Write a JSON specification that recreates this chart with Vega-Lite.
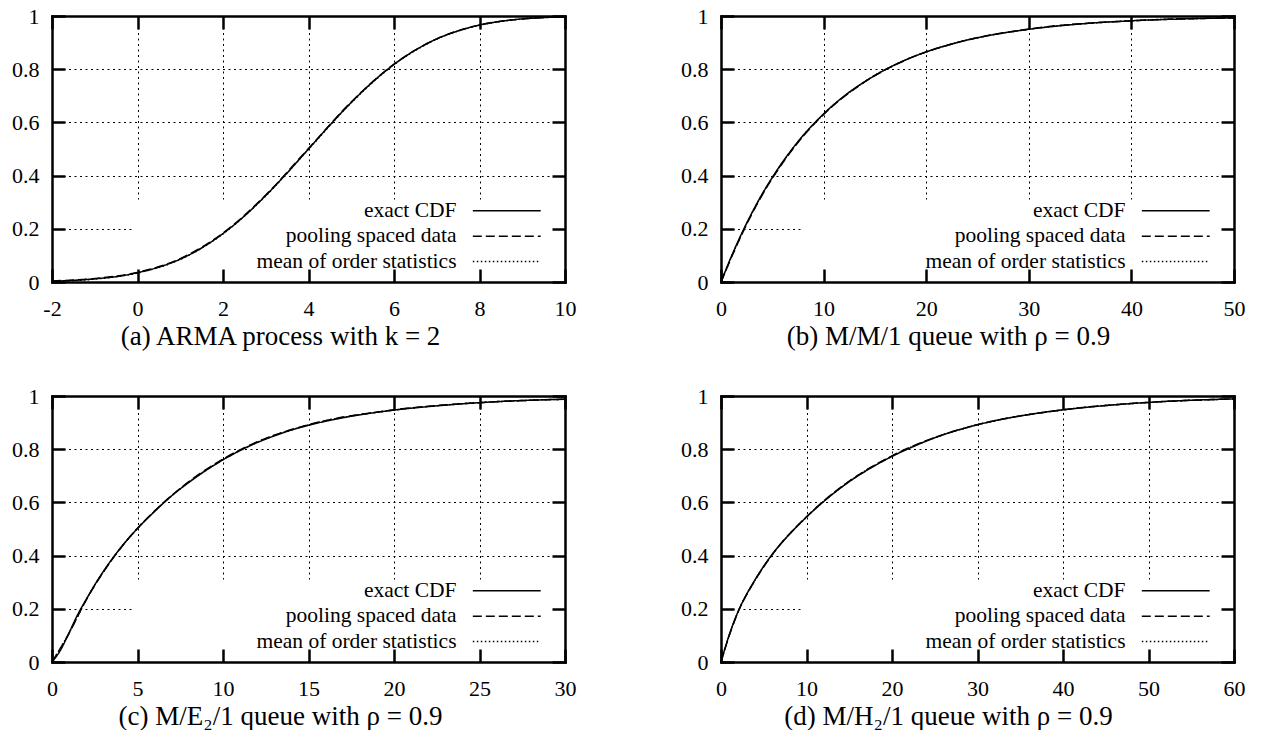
{
  "$schema": "https://vega.github.io/schema/vega-lite/v6.json",
  "background": "white",
  "padding": {"left": 11, "top": 5, "right": 0, "bottom": 0},
  "config": {
    "view": {"stroke": null},
    "font": "Liberation Serif",
    "axis": {
      "labelFont": "Liberation Serif", "labelFontSize": 22, "labelColor": "black",
      "tickColor": "black", "tickWidth": 2.5, "tickSize": -13,
      "domainColor": "black", "domainWidth": 2.5, "domainCap": "square",
      "gridColor": "black", "gridDash": [2, 3.5], "gridWidth": 1, "gridOpacity": 1,
      "labelFlush": false, "labelOverlap": false, "labelBound": false,
      "labelPadding": 26, "grid": false
    },
    "axisBottom": {"labelPadding": 29},
    "legend": {
      "orient": "none", "legendX": 444, "legendY": 184, "title": null,
      "symbolType": "M-6,0H6", "symbolSize": 128, "symbolStrokeWidth": 1.5,
      "symbolStrokeColor": "black", "symbolFillColor": "transparent",
      "labelOffset": -61, "labelAlign": "right", "labelFont": "Liberation Serif",
      "labelFontSize": 21.5, "labelColor": "black", "labelLimit": 400,
      "rowPadding": 2.4, "padding": 0
    },
    "title": {"font": "Liberation Serif", "fontSize": 27, "fontWeight": "normal", "color": "black"}
  },
  "datasets": {
    "a": [
      {"s": "exact CDF", "x": -2, "y": 0.003}, {"s": "exact CDF", "x": -1.5, "y": 0.006}, {"s": "exact CDF", "x": -1, "y": 0.012}, {"s": "exact CDF", "x": -0.5, "y": 0.020}, {"s": "exact CDF", "x": 0, "y": 0.035}, {"s": "exact CDF", "x": 0.5, "y": 0.056}, {"s": "exact CDF", "x": 1, "y": 0.086}, {"s": "exact CDF", "x": 1.5, "y": 0.128}, {"s": "exact CDF", "x": 2, "y": 0.182}, {"s": "exact CDF", "x": 2.5, "y": 0.248}, {"s": "exact CDF", "x": 3, "y": 0.325}, {"s": "exact CDF", "x": 3.5, "y": 0.410}, {"s": "exact CDF", "x": 4, "y": 0.500}, {"s": "exact CDF", "x": 4.5, "y": 0.590}, {"s": "exact CDF", "x": 5, "y": 0.675}, {"s": "exact CDF", "x": 5.5, "y": 0.752}, {"s": "exact CDF", "x": 6, "y": 0.818}, {"s": "exact CDF", "x": 6.5, "y": 0.872}, {"s": "exact CDF", "x": 7, "y": 0.914}, {"s": "exact CDF", "x": 7.5, "y": 0.944}, {"s": "exact CDF", "x": 8, "y": 0.966}, {"s": "exact CDF", "x": 8.5, "y": 0.980}, {"s": "exact CDF", "x": 9, "y": 0.989}, {"s": "exact CDF", "x": 9.5, "y": 0.994}, {"s": "exact CDF", "x": 10, "y": 0.997},
      {"s": "pooling spaced data", "x": -2, "y": 0.004}, {"s": "pooling spaced data", "x": -1, "y": 0.013}, {"s": "pooling spaced data", "x": 0, "y": 0.036}, {"s": "pooling spaced data", "x": 1, "y": 0.088}, {"s": "pooling spaced data", "x": 2, "y": 0.184}, {"s": "pooling spaced data", "x": 3, "y": 0.327}, {"s": "pooling spaced data", "x": 4, "y": 0.502}, {"s": "pooling spaced data", "x": 5, "y": 0.677}, {"s": "pooling spaced data", "x": 6, "y": 0.819}, {"s": "pooling spaced data", "x": 7, "y": 0.914}, {"s": "pooling spaced data", "x": 8, "y": 0.966}, {"s": "pooling spaced data", "x": 9, "y": 0.989}, {"s": "pooling spaced data", "x": 10, "y": 0.997},
      {"s": "mean of order statistics", "x": -2, "y": 0.003}, {"s": "mean of order statistics", "x": -1, "y": 0.011}, {"s": "mean of order statistics", "x": 0, "y": 0.034}, {"s": "mean of order statistics", "x": 1, "y": 0.085}, {"s": "mean of order statistics", "x": 2, "y": 0.181}, {"s": "mean of order statistics", "x": 3, "y": 0.324}, {"s": "mean of order statistics", "x": 4, "y": 0.499}, {"s": "mean of order statistics", "x": 5, "y": 0.674}, {"s": "mean of order statistics", "x": 6, "y": 0.817}, {"s": "mean of order statistics", "x": 7, "y": 0.913}, {"s": "mean of order statistics", "x": 8, "y": 0.965}, {"s": "mean of order statistics", "x": 9, "y": 0.989}, {"s": "mean of order statistics", "x": 10, "y": 0.997}
    ],
    "b": [
      {"s": "exact CDF", "x": 0, "y": 0}, {"s": "exact CDF", "x": 1, "y": 0.095}, {"s": "exact CDF", "x": 2, "y": 0.181}, {"s": "exact CDF", "x": 3, "y": 0.259}, {"s": "exact CDF", "x": 4, "y": 0.330}, {"s": "exact CDF", "x": 5, "y": 0.393}, {"s": "exact CDF", "x": 6, "y": 0.451}, {"s": "exact CDF", "x": 7, "y": 0.503}, {"s": "exact CDF", "x": 8, "y": 0.551}, {"s": "exact CDF", "x": 9, "y": 0.593}, {"s": "exact CDF", "x": 10, "y": 0.632}, {"s": "exact CDF", "x": 12, "y": 0.699}, {"s": "exact CDF", "x": 14, "y": 0.753}, {"s": "exact CDF", "x": 16, "y": 0.798}, {"s": "exact CDF", "x": 18, "y": 0.835}, {"s": "exact CDF", "x": 20, "y": 0.865}, {"s": "exact CDF", "x": 23, "y": 0.900}, {"s": "exact CDF", "x": 26, "y": 0.926}, {"s": "exact CDF", "x": 30, "y": 0.950}, {"s": "exact CDF", "x": 35, "y": 0.970}, {"s": "exact CDF", "x": 40, "y": 0.982}, {"s": "exact CDF", "x": 45, "y": 0.989}, {"s": "exact CDF", "x": 50, "y": 0.993},
      {"s": "pooling spaced data", "x": 0, "y": 0}, {"s": "pooling spaced data", "x": 2, "y": 0.177}, {"s": "pooling spaced data", "x": 4, "y": 0.326}, {"s": "pooling spaced data", "x": 6, "y": 0.447}, {"s": "pooling spaced data", "x": 8, "y": 0.548}, {"s": "pooling spaced data", "x": 10, "y": 0.630}, {"s": "pooling spaced data", "x": 14, "y": 0.752}, {"s": "pooling spaced data", "x": 18, "y": 0.835}, {"s": "pooling spaced data", "x": 23, "y": 0.900}, {"s": "pooling spaced data", "x": 30, "y": 0.951}, {"s": "pooling spaced data", "x": 40, "y": 0.982}, {"s": "pooling spaced data", "x": 50, "y": 0.993},
      {"s": "mean of order statistics", "x": 0, "y": 0}, {"s": "mean of order statistics", "x": 2, "y": 0.179}, {"s": "mean of order statistics", "x": 4, "y": 0.328}, {"s": "mean of order statistics", "x": 6, "y": 0.449}, {"s": "mean of order statistics", "x": 8, "y": 0.550}, {"s": "mean of order statistics", "x": 10, "y": 0.631}, {"s": "mean of order statistics", "x": 14, "y": 0.753}, {"s": "mean of order statistics", "x": 18, "y": 0.835}, {"s": "mean of order statistics", "x": 23, "y": 0.900}, {"s": "mean of order statistics", "x": 30, "y": 0.950}, {"s": "mean of order statistics", "x": 40, "y": 0.982}, {"s": "mean of order statistics", "x": 50, "y": 0.993}
    ],
    "c": [
      {"s": "exact CDF", "x": 0, "y": 0}, {"s": "exact CDF", "x": 0.5, "y": 0.045}, {"s": "exact CDF", "x": 1, "y": 0.11}, {"s": "exact CDF", "x": 1.5, "y": 0.178}, {"s": "exact CDF", "x": 2, "y": 0.235}, {"s": "exact CDF", "x": 2.5, "y": 0.29}, {"s": "exact CDF", "x": 3, "y": 0.34}, {"s": "exact CDF", "x": 4, "y": 0.428}, {"s": "exact CDF", "x": 5, "y": 0.502}, {"s": "exact CDF", "x": 6, "y": 0.566}, {"s": "exact CDF", "x": 7, "y": 0.625}, {"s": "exact CDF", "x": 8, "y": 0.675}, {"s": "exact CDF", "x": 9, "y": 0.72}, {"s": "exact CDF", "x": 10, "y": 0.76}, {"s": "exact CDF", "x": 11, "y": 0.795}, {"s": "exact CDF", "x": 12, "y": 0.825}, {"s": "exact CDF", "x": 13, "y": 0.85}, {"s": "exact CDF", "x": 14, "y": 0.872}, {"s": "exact CDF", "x": 15, "y": 0.89}, {"s": "exact CDF", "x": 17, "y": 0.918}, {"s": "exact CDF", "x": 20, "y": 0.947}, {"s": "exact CDF", "x": 22.5, "y": 0.963}, {"s": "exact CDF", "x": 25, "y": 0.975}, {"s": "exact CDF", "x": 27.5, "y": 0.983}, {"s": "exact CDF", "x": 30, "y": 0.988},
      {"s": "pooling spaced data", "x": 0, "y": 0}, {"s": "pooling spaced data", "x": 1, "y": 0.108}, {"s": "pooling spaced data", "x": 2, "y": 0.233}, {"s": "pooling spaced data", "x": 3, "y": 0.338}, {"s": "pooling spaced data", "x": 4, "y": 0.427}, {"s": "pooling spaced data", "x": 5, "y": 0.503}, {"s": "pooling spaced data", "x": 6, "y": 0.568}, {"s": "pooling spaced data", "x": 8, "y": 0.678}, {"s": "pooling spaced data", "x": 10, "y": 0.763}, {"s": "pooling spaced data", "x": 12, "y": 0.828}, {"s": "pooling spaced data", "x": 15, "y": 0.892}, {"s": "pooling spaced data", "x": 20, "y": 0.948}, {"s": "pooling spaced data", "x": 25, "y": 0.975}, {"s": "pooling spaced data", "x": 30, "y": 0.988},
      {"s": "mean of order statistics", "x": 0, "y": 0}, {"s": "mean of order statistics", "x": 1, "y": 0.109}, {"s": "mean of order statistics", "x": 2, "y": 0.234}, {"s": "mean of order statistics", "x": 3, "y": 0.339}, {"s": "mean of order statistics", "x": 4, "y": 0.428}, {"s": "mean of order statistics", "x": 5, "y": 0.502}, {"s": "mean of order statistics", "x": 6, "y": 0.567}, {"s": "mean of order statistics", "x": 8, "y": 0.676}, {"s": "mean of order statistics", "x": 10, "y": 0.761}, {"s": "mean of order statistics", "x": 12, "y": 0.826}, {"s": "mean of order statistics", "x": 15, "y": 0.891}, {"s": "mean of order statistics", "x": 20, "y": 0.947}, {"s": "mean of order statistics", "x": 25, "y": 0.975}, {"s": "mean of order statistics", "x": 30, "y": 0.988}
    ],
    "d": [
      {"s": "exact CDF", "x": 0, "y": 0}, {"s": "exact CDF", "x": 0.5, "y": 0.055}, {"s": "exact CDF", "x": 1, "y": 0.105}, {"s": "exact CDF", "x": 2, "y": 0.19}, {"s": "exact CDF", "x": 3, "y": 0.255}, {"s": "exact CDF", "x": 4, "y": 0.31}, {"s": "exact CDF", "x": 5, "y": 0.36}, {"s": "exact CDF", "x": 6, "y": 0.405}, {"s": "exact CDF", "x": 8, "y": 0.48}, {"s": "exact CDF", "x": 10, "y": 0.545}, {"s": "exact CDF", "x": 12, "y": 0.603}, {"s": "exact CDF", "x": 15, "y": 0.678}, {"s": "exact CDF", "x": 18, "y": 0.738}, {"s": "exact CDF", "x": 20, "y": 0.773}, {"s": "exact CDF", "x": 22, "y": 0.803}, {"s": "exact CDF", "x": 25, "y": 0.843}, {"s": "exact CDF", "x": 30, "y": 0.892}, {"s": "exact CDF", "x": 35, "y": 0.925}, {"s": "exact CDF", "x": 40, "y": 0.948}, {"s": "exact CDF", "x": 45, "y": 0.964}, {"s": "exact CDF", "x": 50, "y": 0.976}, {"s": "exact CDF", "x": 55, "y": 0.984}, {"s": "exact CDF", "x": 60, "y": 0.989},
      {"s": "pooling spaced data", "x": 0, "y": 0}, {"s": "pooling spaced data", "x": 1, "y": 0.103}, {"s": "pooling spaced data", "x": 2, "y": 0.188}, {"s": "pooling spaced data", "x": 4, "y": 0.308}, {"s": "pooling spaced data", "x": 6, "y": 0.404}, {"s": "pooling spaced data", "x": 10, "y": 0.546}, {"s": "pooling spaced data", "x": 15, "y": 0.680}, {"s": "pooling spaced data", "x": 20, "y": 0.775}, {"s": "pooling spaced data", "x": 25, "y": 0.844}, {"s": "pooling spaced data", "x": 30, "y": 0.892}, {"s": "pooling spaced data", "x": 40, "y": 0.948}, {"s": "pooling spaced data", "x": 50, "y": 0.976}, {"s": "pooling spaced data", "x": 60, "y": 0.989},
      {"s": "mean of order statistics", "x": 0, "y": 0}, {"s": "mean of order statistics", "x": 1, "y": 0.104}, {"s": "mean of order statistics", "x": 2, "y": 0.189}, {"s": "mean of order statistics", "x": 4, "y": 0.309}, {"s": "mean of order statistics", "x": 6, "y": 0.404}, {"s": "mean of order statistics", "x": 10, "y": 0.545}, {"s": "mean of order statistics", "x": 15, "y": 0.679}, {"s": "mean of order statistics", "x": 20, "y": 0.774}, {"s": "mean of order statistics", "x": 25, "y": 0.843}, {"s": "mean of order statistics", "x": 30, "y": 0.892}, {"s": "mean of order statistics", "x": 40, "y": 0.948}, {"s": "mean of order statistics", "x": 50, "y": 0.976}, {"s": "mean of order statistics", "x": 60, "y": 0.989}
    ]
  },
  "resolve": {"scale": {"strokeDash": "independent"}, "legend": {"strokeDash": "independent"}},
  "spacing": 35,
  "vconcat": [
    {
      "spacing": 104,
      "resolve": {"scale": {"strokeDash": "independent"}, "legend": {"strokeDash": "independent"}},
      "hconcat": [
        {
          "width": 513, "height": 266,
          "title": {"text": "(a) ARMA process with k = 2", "orient": "bottom", "anchor": "middle", "frame": "group", "dx": -28, "offset": 5},
          "resolve": {"axis": {"x": "independent", "y": "independent"}},
          "layer": [
            {"data": {"values": [{}]}, "mark": {"type": "rect", "fill": "white"},
             "encoding": {
               "x": {"datum": -0.06, "type": "quantitative", "scale": {"domain": [-2, 10], "nice": false, "zero": false}, "axis": {"orient": "bottom", "grid": true, "domain": false, "ticks": false, "labels": false, "title": null, "values": [0, 2, 4, 6, 8], "zindex": 0}},
               "x2": {"datum": 10},
               "y": {"datum": 0, "type": "quantitative", "scale": {"domain": [0, 1], "nice": false, "zero": false}, "axis": {"orient": "left", "grid": true, "domain": false, "ticks": false, "labels": false, "title": null, "values": [0.2, 0.4, 0.6, 0.8], "zindex": 0}},
               "y2": {"datum": 0.31}}},
            {"data": {"name": "a"}, "mark": {"type": "line", "stroke": "black", "strokeWidth": 1.5, "interpolate": "monotone"},
             "encoding": {
               "x": {"field": "x", "type": "quantitative", "scale": {"domain": [-2, 10], "nice": false, "zero": false}, "axis": {"orient": "bottom", "title": null, "zindex": 1, "values": [-2, 0, 2, 4, 6, 8, 10], "labelExpr": "'' + datum.value"}},
               "y": {"field": "y", "type": "quantitative", "scale": {"domain": [0, 1], "nice": false, "zero": false}, "axis": {"orient": "left", "title": null, "zindex": 1, "values": [0, 0.2, 0.4, 0.6, 0.8, 1], "labelExpr": "'' + datum.value"}},
               "strokeDash": {"field": "s", "type": "nominal", "scale": {"domain": ["exact CDF", "pooling spaced data", "mean of order statistics"], "range": [[1, 0], [9, 4], [1.5, 2.5]]}, "legend": {}}}},
            {"data": {"values": [{}]}, "mark": {"type": "rule", "opacity": 0},
             "encoding": {
               "x": {"datum": -2, "type": "quantitative", "scale": {"domain": [-2, 10], "nice": false, "zero": false}, "axis": {"orient": "top", "labels": false, "title": null, "zindex": 1, "values": [-2, 0, 2, 4, 6, 8, 10]}},
               "y": {"datum": 0, "type": "quantitative", "scale": {"domain": [0, 1], "nice": false, "zero": false}, "axis": {"orient": "right", "labels": false, "title": null, "zindex": 1, "values": [0, 0.2, 0.4, 0.6, 0.8, 1]}}}}
          ]
        },
        {
          "width": 513, "height": 266,
          "title": {"text": "(b) M/M/1 queue with ρ = 0.9", "orient": "bottom", "anchor": "middle", "frame": "group", "dx": -29, "offset": 5},
          "resolve": {"axis": {"x": "independent", "y": "independent"}},
          "layer": [
            {"data": {"values": [{}]}, "mark": {"type": "rect", "fill": "white"},
             "encoding": {
               "x": {"datum": 8.0, "type": "quantitative", "scale": {"domain": [0, 50], "nice": false, "zero": false}, "axis": {"orient": "bottom", "grid": true, "domain": false, "ticks": false, "labels": false, "title": null, "values": [10, 20, 30, 40], "zindex": 0}},
               "x2": {"datum": 50},
               "y": {"datum": 0, "type": "quantitative", "scale": {"domain": [0, 1], "nice": false, "zero": false}, "axis": {"orient": "left", "grid": true, "domain": false, "ticks": false, "labels": false, "title": null, "values": [0.2, 0.4, 0.6, 0.8], "zindex": 0}},
               "y2": {"datum": 0.31}}},
            {"data": {"name": "b"}, "mark": {"type": "line", "stroke": "black", "strokeWidth": 1.5, "interpolate": "monotone"},
             "encoding": {
               "x": {"field": "x", "type": "quantitative", "scale": {"domain": [0, 50], "nice": false, "zero": false}, "axis": {"orient": "bottom", "title": null, "zindex": 1, "values": [0, 10, 20, 30, 40, 50], "labelExpr": "'' + datum.value"}},
               "y": {"field": "y", "type": "quantitative", "scale": {"domain": [0, 1], "nice": false, "zero": false}, "axis": {"orient": "left", "title": null, "zindex": 1, "values": [0, 0.2, 0.4, 0.6, 0.8, 1], "labelExpr": "'' + datum.value"}},
               "strokeDash": {"field": "s", "type": "nominal", "scale": {"domain": ["exact CDF", "pooling spaced data", "mean of order statistics"], "range": [[1, 0], [9, 4], [1.5, 2.5]]}, "legend": {}}}},
            {"data": {"values": [{}]}, "mark": {"type": "rule", "opacity": 0},
             "encoding": {
               "x": {"datum": 0, "type": "quantitative", "scale": {"domain": [0, 50], "nice": false, "zero": false}, "axis": {"orient": "top", "labels": false, "title": null, "zindex": 1, "values": [0, 10, 20, 30, 40, 50]}},
               "y": {"datum": 0, "type": "quantitative", "scale": {"domain": [0, 1], "nice": false, "zero": false}, "axis": {"orient": "right", "labels": false, "title": null, "zindex": 1, "values": [0, 0.2, 0.4, 0.6, 0.8, 1]}}}}
          ]
        }
      ]
    },
    {
      "spacing": 104,
      "resolve": {"scale": {"strokeDash": "independent"}, "legend": {"strokeDash": "independent"}},
      "hconcat": [
        {
          "width": 513, "height": 266,
          "title": {"text": "(c) M/E₂/1 queue with ρ = 0.9", "orient": "bottom", "anchor": "middle", "frame": "group", "dx": -28, "offset": 5},
          "resolve": {"axis": {"x": "independent", "y": "independent"}},
          "layer": [
            {"data": {"values": [{}]}, "mark": {"type": "rect", "fill": "white"},
             "encoding": {
               "x": {"datum": 4.85, "type": "quantitative", "scale": {"domain": [0, 30], "nice": false, "zero": false}, "axis": {"orient": "bottom", "grid": true, "domain": false, "ticks": false, "labels": false, "title": null, "values": [5, 10, 15, 20, 25], "zindex": 0}},
               "x2": {"datum": 30},
               "y": {"datum": 0, "type": "quantitative", "scale": {"domain": [0, 1], "nice": false, "zero": false}, "axis": {"orient": "left", "grid": true, "domain": false, "ticks": false, "labels": false, "title": null, "values": [0.2, 0.4, 0.6, 0.8], "zindex": 0}},
               "y2": {"datum": 0.31}}},
            {"data": {"name": "c"}, "mark": {"type": "line", "stroke": "black", "strokeWidth": 1.5, "interpolate": "monotone"},
             "encoding": {
               "x": {"field": "x", "type": "quantitative", "scale": {"domain": [0, 30], "nice": false, "zero": false}, "axis": {"orient": "bottom", "title": null, "zindex": 1, "values": [0, 5, 10, 15, 20, 25, 30], "labelExpr": "'' + datum.value"}},
               "y": {"field": "y", "type": "quantitative", "scale": {"domain": [0, 1], "nice": false, "zero": false}, "axis": {"orient": "left", "title": null, "zindex": 1, "values": [0, 0.2, 0.4, 0.6, 0.8, 1], "labelExpr": "'' + datum.value"}},
               "strokeDash": {"field": "s", "type": "nominal", "scale": {"domain": ["exact CDF", "pooling spaced data", "mean of order statistics"], "range": [[1, 0], [9, 4], [1.5, 2.5]]}, "legend": {}}}},
            {"data": {"values": [{}]}, "mark": {"type": "rule", "opacity": 0},
             "encoding": {
               "x": {"datum": 0, "type": "quantitative", "scale": {"domain": [0, 30], "nice": false, "zero": false}, "axis": {"orient": "top", "labels": false, "title": null, "zindex": 1, "values": [0, 5, 10, 15, 20, 25, 30]}},
               "y": {"datum": 0, "type": "quantitative", "scale": {"domain": [0, 1], "nice": false, "zero": false}, "axis": {"orient": "right", "labels": false, "title": null, "zindex": 1, "values": [0, 0.2, 0.4, 0.6, 0.8, 1]}}}}
          ]
        },
        {
          "width": 513, "height": 266,
          "title": {"text": "(d) M/H₂/1 queue with ρ = 0.9", "orient": "bottom", "anchor": "middle", "frame": "group", "dx": -29, "offset": 5},
          "resolve": {"axis": {"x": "independent", "y": "independent"}},
          "layer": [
            {"data": {"values": [{}]}, "mark": {"type": "rect", "fill": "white"},
             "encoding": {
               "x": {"datum": 9.6, "type": "quantitative", "scale": {"domain": [0, 60], "nice": false, "zero": false}, "axis": {"orient": "bottom", "grid": true, "domain": false, "ticks": false, "labels": false, "title": null, "values": [10, 20, 30, 40, 50], "zindex": 0}},
               "x2": {"datum": 60},
               "y": {"datum": 0, "type": "quantitative", "scale": {"domain": [0, 1], "nice": false, "zero": false}, "axis": {"orient": "left", "grid": true, "domain": false, "ticks": false, "labels": false, "title": null, "values": [0.2, 0.4, 0.6, 0.8], "zindex": 0}},
               "y2": {"datum": 0.31}}},
            {"data": {"name": "d"}, "mark": {"type": "line", "stroke": "black", "strokeWidth": 1.5, "interpolate": "monotone"},
             "encoding": {
               "x": {"field": "x", "type": "quantitative", "scale": {"domain": [0, 60], "nice": false, "zero": false}, "axis": {"orient": "bottom", "title": null, "zindex": 1, "values": [0, 10, 20, 30, 40, 50, 60], "labelExpr": "'' + datum.value"}},
               "y": {"field": "y", "type": "quantitative", "scale": {"domain": [0, 1], "nice": false, "zero": false}, "axis": {"orient": "left", "title": null, "zindex": 1, "values": [0, 0.2, 0.4, 0.6, 0.8, 1], "labelExpr": "'' + datum.value"}},
               "strokeDash": {"field": "s", "type": "nominal", "scale": {"domain": ["exact CDF", "pooling spaced data", "mean of order statistics"], "range": [[1, 0], [9, 4], [1.5, 2.5]]}, "legend": {}}}},
            {"data": {"values": [{}]}, "mark": {"type": "rule", "opacity": 0},
             "encoding": {
               "x": {"datum": 0, "type": "quantitative", "scale": {"domain": [0, 60], "nice": false, "zero": false}, "axis": {"orient": "top", "labels": false, "title": null, "zindex": 1, "values": [0, 10, 20, 30, 40, 50, 60]}},
               "y": {"datum": 0, "type": "quantitative", "scale": {"domain": [0, 1], "nice": false, "zero": false}, "axis": {"orient": "right", "labels": false, "title": null, "zindex": 1, "values": [0, 0.2, 0.4, 0.6, 0.8, 1]}}}}
          ]
        }
      ]
    }
  ]
}
